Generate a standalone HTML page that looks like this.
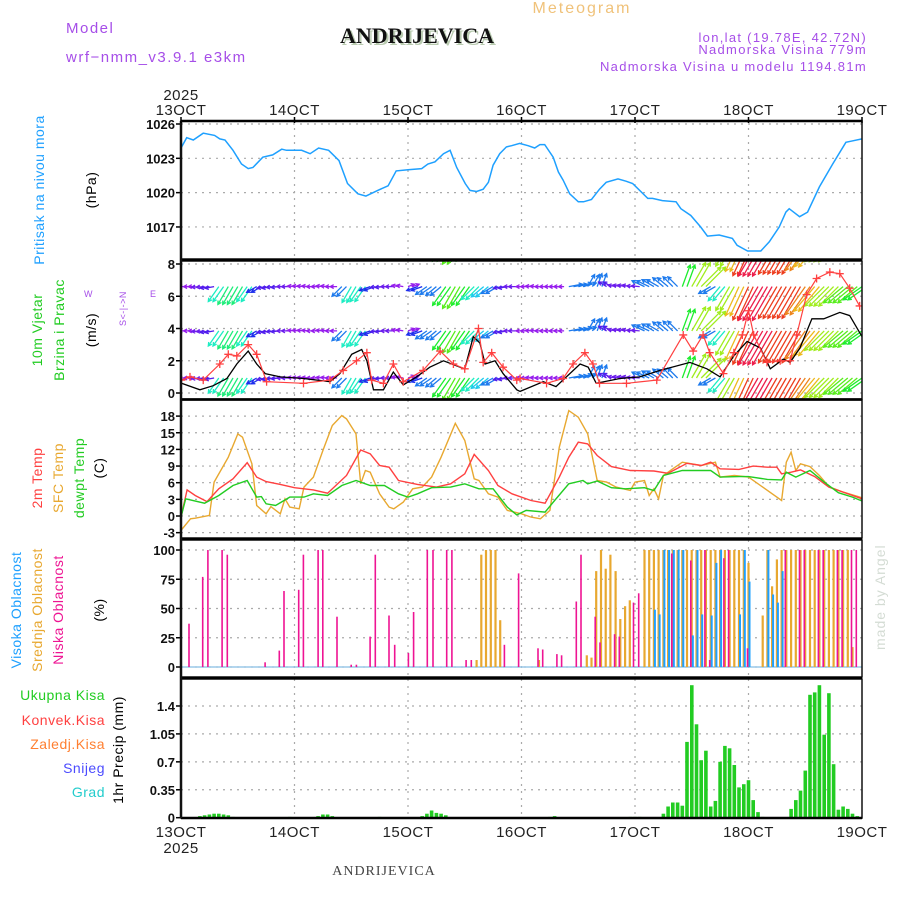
<!DOCTYPE html>
<html><head><meta charset="utf-8">
<style>
html,body{margin:0;padding:0;background:#fff;}
svg{display:block;font-family:"Liberation Sans",sans-serif;}
</style></head>
<body>
<svg id="chart" width="900" height="900" viewBox="0 0 900 900" xmlns="http://www.w3.org/2000/svg">
  <defs>
    <clipPath id="cp2"><rect x="181" y="261" width="681" height="138"/></clipPath>
    <clipPath id="cp3"><rect x="181" y="400" width="681" height="138"/></clipPath>
  </defs>
  <g fill="#a64ee8" font-size="15" letter-spacing="1.5">
    <text x="66" y="33">Model</text>
    <text x="66" y="62">wrf−nmm_v3.9.1 e3km</text>
    <text x="867" y="42" text-anchor="end" font-size="13" letter-spacing="1.3">lon,lat (19.78E, 42.72N)</text>
    <text x="867" y="54" text-anchor="end" font-size="13" letter-spacing="1.3">Nadmorska Visina 779m</text>
    <text x="867" y="71" text-anchor="end" font-size="13" letter-spacing="1.3">Nadmorska Visina u modelu 1194.81m</text>
  </g>
  <text x="582" y="13" text-anchor="middle" fill="#f0c27a" font-size="16" letter-spacing="2">Meteogram</text>
  <text x="417" y="43" text-anchor="middle" font-family="Liberation Serif,serif" font-weight="bold" font-size="22" fill="#b9cbb0" transform="translate(2,2)">ANDRIJEVICA</text>
  <text x="417" y="43" text-anchor="middle" font-family="Liberation Serif,serif" font-weight="bold" font-size="22" fill="#111">ANDRIJEVICA</text>
  <text x="384" y="875" text-anchor="middle" font-family="Liberation Serif,serif" font-size="14" fill="#444" letter-spacing="1">ANDRIJEVICA</text>
  <text transform="translate(885,650) rotate(-90)" fill="#d4dcd4" font-size="14" letter-spacing="1">made by Angel</text>

  <g font-size="14" letter-spacing="0.5">
    <text transform="translate(44,190) rotate(-90)" text-anchor="middle" fill="#1ea0ff">Pritisak na nivou mora</text>
    <text transform="translate(96,190) rotate(-90)" text-anchor="middle" fill="#000">(hPa)</text>
    <text transform="translate(42,330) rotate(-90)" text-anchor="middle" fill="#22cc22">10m Vjetar</text>
    <text transform="translate(64,330) rotate(-90)" text-anchor="middle" fill="#22cc22">Brzina i Pravac</text>
    <text transform="translate(96,330) rotate(-90)" text-anchor="middle" fill="#000">(m/s)</text>
    <g fill="#a64ee8" font-size="9">
      <text x="84" y="297">W</text>
      <text x="150" y="297">E</text>
      <text transform="translate(126,326) rotate(-90)">S&lt;-|-&gt;N</text>
    </g>
    <text transform="translate(42,478) rotate(-90)" text-anchor="middle" fill="#ff4040">2m Temp</text>
    <text transform="translate(63,478) rotate(-90)" text-anchor="middle" fill="#e8a830">SFC Temp</text>
    <text transform="translate(84,478) rotate(-90)" text-anchor="middle" fill="#22cc22">dewpt Temp</text>
    <text transform="translate(104,468) rotate(-90)" text-anchor="middle" fill="#000">(C)</text>
    <text transform="translate(21,610) rotate(-90)" text-anchor="middle" fill="#1ea0ff">Visoka Oblacnost</text>
    <text transform="translate(42,610) rotate(-90)" text-anchor="middle" fill="#e8a830">Srednja Oblacnost</text>
    <text transform="translate(63,610) rotate(-90)" text-anchor="middle" fill="#ee1493">Niska Oblacnost</text>
    <text transform="translate(104,610) rotate(-90)" text-anchor="middle" fill="#000">(%)</text>
    <text x="105" y="700" text-anchor="end" fill="#22cc22">Ukupna  Kisa</text>
    <text x="105" y="725" text-anchor="end" fill="#ff4040">Konvek.Kisa</text>
    <text x="105" y="749" text-anchor="end" fill="#ff7f30">Zaledj.Kisa</text>
    <text x="105" y="773" text-anchor="end" fill="#4b4bff">Snijeg</text>
    <text x="105" y="797" text-anchor="end" fill="#22cccc">Grad</text>
    <text transform="translate(123,750) rotate(-90)" text-anchor="middle" fill="#000">1hr Precip (mm)</text>
  </g>
  <g id="plot"></g>
</svg>
<script>
// ---- data ----
const dayLabels = ["13OCT","14OCT","15OCT","16OCT","17OCT","18OCT","19OCT"];
const pressHours = [0,1.2,2.6,4.7,7.1,8.2,9.3,11,12.8,14.2,15.2,17.3,19.4,21.3,22.3,25.5,27.3,29.1,31.2,33.4,35.2,37.4,39.1,41.6,43.8,45.5,48,50.9,52.2,53.7,55.5,56.9,58.3,60.1,61.1,62.5,63.9,65,66,67.4,68.8,69.9,71.6,73.4,74.8,75.9,76.9,78.7,79.8,80.8,82.2,84,85.1,86.8,88.5,89.9,92.4,94.1,95.5,98.7,99.7,101.8,104.7,105.7,107.8,109.9,111.3,113.8,116.6,117.6,119.8,122.6,124.4,126.5,127.9,128.6,130.8,132.5,135,137.8,140.6,141.7,144];
const pressVals = [1023.9,1024.8,1024.6,1025.2,1025.0,1024.7,1024.6,1023.7,1022.5,1022.1,1022.2,1023.1,1023.3,1023.8,1023.7,1023.7,1023.4,1023.9,1023.7,1022.8,1020.8,1019.9,1019.7,1020.2,1020.6,1021.9,1022.0,1022.1,1022.5,1022.7,1023.4,1023.7,1022.2,1020.8,1020.2,1020.1,1020.3,1020.9,1022.4,1023.4,1024.0,1024.1,1024.3,1024.1,1023.9,1024.2,1024.2,1023.1,1021.8,1021.1,1019.9,1019.2,1019.2,1019.4,1020.3,1020.9,1021.2,1021.0,1020.8,1019.5,1019.5,1019.3,1019.2,1018.6,1018.0,1017.0,1016.2,1016.3,1016.0,1015.4,1014.9,1014.9,1015.7,1017.0,1018.3,1018.6,1017.9,1018.3,1020.5,1022.5,1024.4,1024.5,1024.7];
const pressTicks = [1026,1023,1020,1017];

const windHours = [0,2,4,6,8,10,12,14,16,18,20,22,24,26,28,30,32,34,36,38,40,42,44,46,48,50,52,54,56,58,60,62,64,66,68,70,72,74,76,78,80,82,84,86,88,90,92,94,96,98,100,102,104,106,108,110,112,114,116,118,120,122,124,126,128,130,132,134,136,138,140,142,144];
const windDir = [270,270,265,260,215,210,210,215,240,260,265,270,275,275,270,275,270,225,210,215,250,265,270,280,70,250,235,230,215,210,215,225,230,240,260,270,270,275,270,270,270,80,75,30,20,300,280,280,275,295,300,310,315,20,30,45,240,220,210,205,205,210,210,210,210,210,215,220,225,225,230,230,235];
const windSpd = [1.5,1.5,1.8,2,4,4.5,4.5,4,2.5,2,2,1.8,1.5,1.5,1.5,1.5,1.5,3,4,4,2.5,2,1.8,1.5,1.5,2.5,3,3,5,5.5,5,4,3.5,3,2,1.8,1.2,1.2,1.2,1.2,1.2,3,3,3,3,2,1.8,1.8,1.8,3,3,3,3,5,6,6,3,4,6,7,8,8.5,8.5,8,8,8,7.5,7,6,6,5.5,5.5,5];
const windRows = [9.35,6.6,3.85,0.93];
const speedHours = [0.1,4,6.8,9.7,11.8,14.2,16,17.8,21,25.9,31.5,33.6,36.1,38.2,39.3,40.7,42.8,44.9,47,49.8,52.6,55.5,59,60,61.8,63.2,64.3,66.4,68.1,71,71.7,76.6,79.3,84.4,86.1,87.8,92.8,97,101.3,107.6,111.2,114,116.9,119.7,122.5,124.6,127.4,128.8,130.9,133.4,135.9,139.3,141.4,144];
const speedVals = [0.6,0.2,0.45,0.9,1.8,2.6,1.8,1.2,1.0,0.9,0.7,1.2,2.4,2.7,2.0,0.2,0.2,1.3,0.5,1.0,1.6,2.0,1.6,1.5,3.5,3.1,1.8,2.0,1.2,0.2,0.1,0.7,0.4,1.8,1.6,0.6,0.9,1.0,1.4,1.9,1.5,1.0,2.3,3.2,2.8,1.5,2.1,1.9,2.8,4.6,4.6,5.0,4.8,3.5];
const gustHours = [0.1,1.9,4.7,8.2,10,11.8,14.2,16,18.1,25.9,31.5,34.3,37.1,39.3,40.3,42.8,44.9,47,51.2,54.8,57.6,60,62.9,63.9,65.7,68.1,71,71.7,77.3,80.8,82.9,85.4,87.1,88.5,94.2,100.6,106.2,108.3,110.4,111.8,114.7,116.9,118.7,120,121.1,123.9,126.7,128.8,130.2,132.3,134.4,137.2,139.3,141.4,143.5];
const gustVals = [0.8,1.0,0.8,1.8,2.4,2.3,3.0,2.4,0.7,0.6,0.8,1.4,2.0,2.5,0.8,0.6,1.8,0.7,1.4,2.6,1.8,1.5,4.0,1.9,2.5,1.6,0.8,0.9,0.6,0.9,1.8,2.5,1.8,0.6,0.6,0.8,3.6,2.6,3.6,2.5,1.2,2.5,3.6,5.1,3.6,1.9,2.0,2.0,3.6,6.1,7.1,7.5,7.4,6.5,5.4];
const windTicks = [0,2,4,6,8];

const t2Hours = [0,1.3,3,5.5,8,11,14,16,18,21,24,28,31,35,38,40,42,44,46,50,54,57,60,62,65,67,70,74,77,80,82,84,86,88,91,95,100,103,107,110,112,114,118,121,124,126,127,129,131,134,137,140,144];
const t2Vals = [-0.2,4.7,3.7,2.6,4.9,6.7,9.6,7.0,6.2,5.7,5.1,4.7,4.1,7.3,11.9,11.2,9.1,8.8,6.4,5.7,5.2,5.8,7.6,11.1,8.2,5.5,4.0,2.8,2.3,7.0,10.6,13.3,13.0,10.9,8.9,8.2,8.1,7.7,9.5,9.1,9.7,8.5,8.4,9.0,8.8,8.8,7.6,7.9,8.3,7.1,5.2,4.3,3.1];
const sfcHours = [0,2,3,6,7,10,12,13,15,16,18,19,21,22,23,25,26,28,30,32,34,35,37,38,39,40,42,44,45,47,49,51,53,55,58,60,62,63,65,67,69,72,74,76,78,80,82,84,86,88,90,92,95,96,98,99,100,101,102,104,106,110,113,114,117,120,123,127,128,129,130,131,133,135,137,140,144];
const sfcVals = [-2.6,-0.5,-0.4,0.1,6.1,10.6,14.8,14.2,9.4,1.9,0.4,1.7,0.4,3.1,1.6,1.3,5.2,7.0,11.8,16.3,18.1,17.5,14.8,5.8,8.2,7.9,4.0,1.6,1.3,2.5,4.9,5.2,7.0,10.6,16.7,13.6,6.7,6.4,4.0,3.4,1.0,0.4,-0.2,-0.5,1.0,12.4,19.0,17.8,14.8,6.4,6.1,5.2,4.6,6.1,6.4,3.7,4.9,3.1,7.3,8.5,9.7,9.1,9.7,7.0,7.3,7.0,5.2,2.8,9.7,11.5,8.2,9.4,8.9,7.3,5.3,4.3,3.3];
const dewHours = [0,1,5,8,11,14,16,17,18,20,23,26,28,31,34,37,40,43,46,48,50,53,57,60,63,66,69,71,73,77,79,82,85,86,88,91,94,98,100,102,106,110,112,114,118,120,124,127,128,130,133,136,139,142,144];
const dewVals = [-0.2,3.1,2.3,3.7,5.5,6.4,3.4,3.5,2.2,1.9,3.4,3.4,4.0,3.7,5.5,6.4,5.5,5.5,4.0,3.4,4.0,5.1,5.2,5.8,4.9,4.9,1.6,0.2,1.0,0.7,2.8,5.8,6.4,5.8,6.3,5.1,4.9,5.1,4.6,7.3,8.2,8.2,8.2,7.0,7.1,7.1,6.6,6.5,7.9,7.0,8.2,6.1,4.2,3.4,2.7];
const tempTicks = [18,15,12,9,6,3,0,-3];

const lowCloudHours = [1.9,4.8,5.9,8.9,10,18,21,22,25.1,26.1,29.2,30.2,33.2,36.2,37.3,40.2,41.3,44.2,45.4,48.3,49.4,52.3,53.5,56.4,57.5,60.5,61.6,68.6,71.6,75.7,76.7,79.7,80.7,83.8,84.8,87.8,88.8,91.9,92.9,95.9,97,104,108,111,112,115,116,120,128,131,132,135,136,139,140,142,143];
const lowCloudVals = [37,77,100,100,96,4,14,65,66,96,100,100,43,2,2,26,96,44,19,12,47,100,100,100,100,6,6,19,80,16,15,11,10,56,96,43,21,28,26,55,63,97,91,100,6,93,100,16,100,100,100,100,100,100,100,100,100];
const midCloudHours = [62.5,63.5,64.5,65.5,66.5,67.5,75.7,85.8,86.8,87.8,88.8,89.8,90.8,91.9,92.9,93.9,94.9,98,99,100,101,102,103,104,105,106,107,108,109,110,111,112,113,114,115,116,117,118,119,120,123,124,125,126,127,128,129,130,131,132,133,134,135,136,137,138,139,140,141,142];
const midCloudVals = [6,96,100,100,100,40,6,10,8,82,100,84,96,82,41,52,57,100,100,100,100,100,100,100,100,100,100,100,100,100,100,100,100,100,100,100,100,100,100,89,44,100,69,92,100,100,100,100,100,100,100,100,100,100,100,100,100,100,100,17];
const highCloudHours = [100,101,102,103,104,105,106,108,109,110,112,113,114,118,119,120,124,125,126,127];
const highCloudVals = [49,45,100,100,100,100,100,27,100,45,44,89,100,45,100,73,100,62,55,82];
const cloudTicks = [100,75,50,25,0];

const precipHours = [4,5,6,7,8,9,10,11,23,29,30,31,32,42,51,52,53,54,55,56,78,79,95,96,97,102,103,104,105,106,107,108,109,110,111,112,113,114,115,116,117,118,119,120,121,122,123,129,130,131,132,133,134,135,136,137,138,139,140,141,142,143];
const precipVals = [0.02,0.03,0.04,0.05,0.05,0.04,0.03,0.01,0.01,0.02,0.04,0.04,0.02,0.01,0.02,0.05,0.09,0.06,0.05,0.03,0.01,0.02,0.01,0.01,0.01,0.05,0.14,0.19,0.19,0.15,0.95,1.66,1.17,0.72,0.84,0.14,0.21,0.70,0.90,0.87,0.66,0.38,0.42,0.47,0.22,0.07,0.01,0.11,0.22,0.34,0.59,1.54,1.57,1.66,1.04,1.56,0.67,0.10,0.14,0.11,0.05,0.02];
const precipTicks = ["1.4","1.05","0.7","0.35","0"];

// ---- scales ----
const X0 = 181, X1 = 862;
const X = h => X0 + h * (X1 - X0) / 144;
const yP = v => 124 + (1026 - v) * 11.44;
const yW = v => 393 - v * 16.125;
const yT = v => 516 - v * 5.55;
const yC = v => 667 - v * 1.17;
const yR = v => 817.7 - v * 79.8;

const NS = "http://www.w3.org/2000/svg";
const plot = document.getElementById('plot');
function mk(tag, attrs, parent) {
  const e = document.createElementNS(NS, tag);
  for (const k in attrs) e.setAttribute(k, attrs[k]);
  (parent || plot).appendChild(e);
  return e;
}
function polyPts(hs, vs, yf) { return hs.map((h, i) => X(h).toFixed(1) + "," + yf(vs[i]).toFixed(1)).join(" "); }

const panels = [
  {name:"pressure", top:121, bot:259, ticks:pressTicks.map(v=>[v, yP(v), String(v)])},
  {name:"wind", top:261, bot:399, ticks:windTicks.map(v=>[v, yW(v), String(v)])},
  {name:"temperature", top:400, bot:538, ticks:tempTicks.map(v=>[v, yT(v), String(v)])},
  {name:"cloud", top:540, bot:677, ticks:cloudTicks.map(v=>[v, yC(v), String(v)])},
  {name:"precip", top:679, bot:818, ticks:precipTicks.map(v=>[v, yR(parseFloat(v)), v])}
];

panels.forEach(p => {
  const g = mk('g', {});
  
  
  for (let d = 1; d < 6; d++) {
    const l = mk('line', {x1:X(d*24), x2:X(d*24), y1:p.top, y2:p.bot, stroke:"#aaa", "stroke-width":1.2, "stroke-dasharray":"2,5"}, g);
    
    
  }
  p.ticks.forEach(t => {
    const l = mk('line', {x1:X0, x2:X1, y1:t[1], y2:t[1], stroke:"#aaa", "stroke-width":1.2, "stroke-dasharray":"2,5"}, g);
    
    
    const tk = mk('line', {x1:X0-5, x2:X0, y1:t[1], y2:t[1], stroke:"#000", "stroke-width":1.5}, g);
    
    
    const tx = mk('text', {x:X0-6, y:t[1]+5, "text-anchor":"end", "font-size":13, "font-weight":"bold", fill:"#111"}, g);
    
    
    tx.textContent = t[2];
  });
});

const pl = mk('polyline', {points:polyPts(pressHours, pressVals, yP), fill:"none", stroke:"#1ea0ff", "stroke-width":1.5});



function spdColor(s) {
  const stops = [[1.5,275],[2.5,235],[3.5,190],[5,125],[6.5,60],[7.5,30],[8.2,0],[9,-35]];
  let h = stops[0][1];
  if (s >= stops[stops.length-1][0]) h = stops[stops.length-1][1];
  else for (let i = 0; i < stops.length-1; i++) if (s >= stops[i][0] && s < stops[i+1][0]) {
    const f = (s - stops[i][0]) / (stops[i+1][0] - stops[i][0]);
    h = stops[i][1] + f * (stops[i+1][1] - stops[i][1]);
  }
  return "hsl(" + ((h + 360) % 360).toFixed(0) + ",85%,52%)";
}
const wg = mk('g', {"clip-path":"url(#cp2)"});


windRows.forEach(r => {
  windHours.forEach((h, i) => {
    [0, 1].forEach(off => {
      const L = windSpd[i] * 4.6, a = windDir[i] * Math.PI / 180;
      const x0 = X(h + off), y0 = yW(r);
      const x1 = x0 + L * Math.sin(a), y1 = y0 - L * Math.cos(a);
      const c = spdColor(windSpd[i]);
      const hl = 4, ha = 0.5;
      const b = Math.atan2(y1 - y0, x1 - x0);
      const d = "M" + x0.toFixed(1) + "," + y0.toFixed(1) + "L" + x1.toFixed(1) + "," + y1.toFixed(1) +
        "M" + (x1 - hl*Math.cos(b-ha)).toFixed(1) + "," + (y1 - hl*Math.sin(b-ha)).toFixed(1) + "L" + x1.toFixed(1) + "," + y1.toFixed(1) +
        "L" + (x1 - hl*Math.cos(b+ha)).toFixed(1) + "," + (y1 - hl*Math.sin(b+ha)).toFixed(1);
      const p = mk('path', {d:d, stroke:c, "stroke-width":1.3, fill:"none"}, wg);
      
      
    });
  });
});
const sp = mk('polyline', {points:polyPts(speedHours, speedVals, yW), fill:"none", stroke:"#000", "stroke-width":1.3, "clip-path":"url(#cp2)"});


const gp = mk('polyline', {points:polyPts(gustHours, gustVals, yW), fill:"none", stroke:"#ff4040", "stroke-width":1.2, "clip-path":"url(#cp2)"});


gustHours.forEach((h, i) => {
  const x = X(h), y = yW(gustVals[i]);
  const m = mk('path', {d:"M"+(x-4)+","+y+"h8M"+x+","+(y-4)+"v8", stroke:"#ff4040", "stroke-width":1.3, "clip-path":"url(#cp2)"});
  
  
});

[[sfcHours, sfcVals, "#e8a830", "sfc-temp-line"], [t2Hours, t2Vals, "#ff4040", "temp-2m-line"], [dewHours, dewVals, "#22cc22", "dewpoint-line"]].forEach(s => {
  const l = mk('polyline', {points:polyPts(s[0], s[1], yT), fill:"none", stroke:s[2], "stroke-width":1.4, "clip-path":"url(#cp3)"});
  
  
});

const baseLine = mk('line', {x1:X0, x2:X1, y1:yC(0), y2:yC(0), stroke:"#9ac8e8", "stroke-width":1.5});


[[midCloudHours, midCloudVals, "#e8a830", 2.2, 0, "mid-cloud-bar"], [highCloudHours, highCloudVals, "#1ea0ff", 2, 1, "high-cloud-bar"], [lowCloudHours, lowCloudVals, "#ee1493", 1.6, -1, "low-cloud-bar"]].forEach(s => {
  s[0].forEach((h, i) => {
    const x = X(h) + s[4], y = yC(s[1][i]);
    const r = mk('rect', {x:(x - s[3]/2).toFixed(1), y:y.toFixed(1), width:s[3], height:(yC(0) - y).toFixed(1), fill:s[2]});
    
    
  });
});

precipHours.forEach((h, i) => {
  const x = X(h), y = yR(precipVals[i]);
  const r = mk('rect', {x:(x - 1.8).toFixed(1), y:y.toFixed(1), width:3.6, height:(yR(0) - y).toFixed(1), fill:"#22cc22"});
  
  
});

panels.forEach(p => {
  const f = mk('rect', {x:X0, y:p.top, width:X1 - X0, height:p.bot - p.top, fill:"none", stroke:"#111", "stroke-width":1.5});
  
  
});
[[121, "top-axis-line"], [818, "bottom-axis-line"]].forEach(a => {
  const l = mk('line', {x1:X0, x2:X1, y1:a[0], y2:a[0], stroke:"#000", "stroke-width":2.5});
  
  
});
[260, 399.5, 539, 678].forEach(y => {
  const l = mk('line', {x1:X0, x2:X1, y1:y, y2:y, stroke:"#000", "stroke-width":2.5});
  
  
});
const la = mk('line', {x1:X0, x2:X0, y1:121, y2:818, stroke:"#111", "stroke-width":2.5});



dayLabels.forEach((d, i) => {
  const x = X(i * 24);
  const t1 = mk('text', {x:x, y:115, "text-anchor":"middle", "font-size":15, fill:"#222", "letter-spacing":0.5});
  
  
  t1.textContent = d;
  const t2 = mk('text', {x:x, y:837, "text-anchor":"middle", "font-size":15, fill:"#222", "letter-spacing":0.5});
  
  
  t2.textContent = d;
  const tk = mk('line', {x1:x, x2:x, y1:117, y2:123, stroke:"#000", "stroke-width":1.5});
  
  
});
const yr1 = mk('text', {x:X0, y:100, "text-anchor":"middle", "font-size":15, fill:"#222", "letter-spacing":0.5});


yr1.textContent = "2025";
const yr2 = mk('text', {x:X0, y:853, "text-anchor":"middle", "font-size":15, fill:"#222", "letter-spacing":0.5});


yr2.textContent = "2025";
</script>
</body></html>
